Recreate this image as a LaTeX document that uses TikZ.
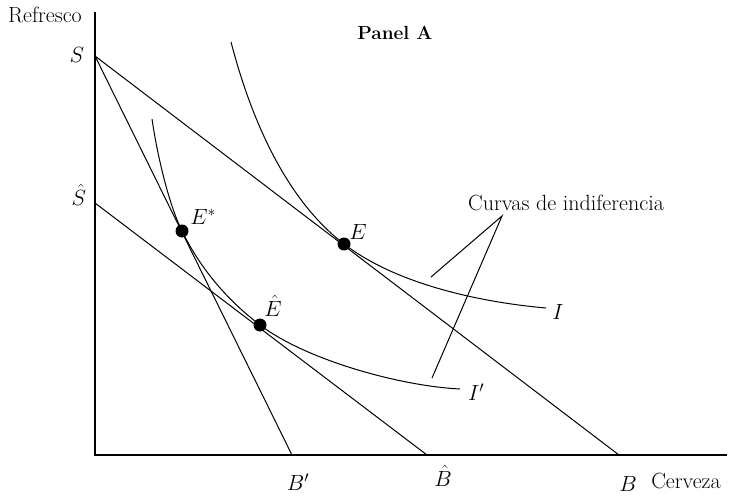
\RequirePackage{fix-cm}
\documentclass[tikz,border=0pt]{standalone}
\begin{document}
\begin{tikzpicture}[x=1pt,y=-1pt]
\tikzset{
  ax/.style={line width=1.1pt},
  ln/.style={line width=1pt},
  crv/.style={line width=1pt},
  dot/.style={circle, fill=black, inner sep=0pt, minimum size=13pt},
  lbl/.style={font=\fontsize{22}{26}\selectfont, inner sep=0pt},
  ttl/.style={font=\fontsize{19}{24}\selectfont\bfseries, inner sep=0pt},
}
\useasboundingbox (0,0) rectangle (730,497);
% axes
\coordinate (O) at (95,455);
\coordinate (Ytop) at (95,12);
\coordinate (Xend) at (727,455);
\draw[ax] (Ytop) -- (O) -- (Xend);
% budget line points
\coordinate (S) at (95,56);
\coordinate (Sh) at (95,203);
\coordinate (B) at (619,455);
\coordinate (Bp) at (292,455);
\coordinate (Bh) at (427,455);
\draw[ln] (S) -- (B);
\draw[ln] (S) -- (Bp);
\draw[ln] (Sh) -- (Bh);
% equilibrium points
\node[dot] (E) at (344,244) {};
\node[dot] (Es) at (182,231) {};
\node[dot] (Eh) at (260,325) {};
% indifference curves
\coordinate (Itop) at (231,42);
\coordinate (Iend) at (546,308);
\draw[crv] (Itop) .. controls (250,115) and (284,198) .. (E.center)
  .. controls (404,290) and (500,304) .. (Iend);
\coordinate (Iptop) at (152,119);
\coordinate (Ipend) at (460,389);
\draw[crv] (Iptop) .. controls (158,160) and (170,207) .. (Es.center)
  .. controls (200,268) and (227,300) .. (Eh.center)
  .. controls (306,360) and (400,386) .. (Ipend);
% pointer lines
\coordinate (apex) at (502,216);
\coordinate (pI) at (431,277);
\coordinate (pIp) at (432,378);
\draw[ln] (pI) -- (apex) -- (pIp);
% labels
\node[lbl] (lR) at (45,15) {Refresco};
\node[lbl] (lS) at (77,55) {$S$};
\node[lbl] (lSh) at (79,195) {$\hat{S}$};
\node[lbl] (lEs) at (203,217) {$E^*$};
\node[lbl] (lEh) at (273,306) {$\hat{E}$};
\node[lbl] (lE) at (358,232) {$E$};
\node[lbl] (lI) at (558,312) {$I$};
\node[lbl] (lIp) at (476,392) {$I'$};
\node[lbl] (lBp) at (298,482) {$B'$};
\node[lbl] (lBh) at (443,476) {$\hat{B}$};
\node[lbl] (lB) at (628,484) {$B$};
\node[lbl] (lC) at (686,481) {Cerveza};
\node[lbl] (lCI) at (566,203) {Curvas de indiferencia};
\node[ttl] (lP) at (395,33) {Panel A};
\end{tikzpicture}
\end{document}
